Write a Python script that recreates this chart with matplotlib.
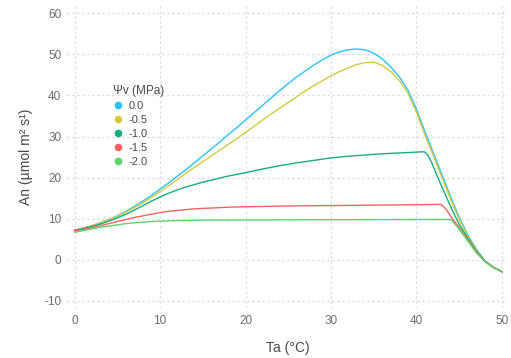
import matplotlib
matplotlib.use("Agg")
import matplotlib.pyplot as plt
from matplotlib.lines import Line2D

plt.rcParams['font.family'] = ['Liberation Sans', 'DejaVu Sans']
plt.rcParams['axes.unicode_minus'] = False

# series (Ta in degC, An in umol m-2 s-1)
ta_00 = list(range(0, 51))
an_00 = [7.2, 7.7, 8.3, 9.0, 9.8, 10.7, 11.8, 13.0, 14.3, 15.7,
         17.2, 18.7, 20.3, 21.9, 23.6, 25.3, 27.0, 28.7, 30.5, 32.2,
         34.0, 35.8, 37.6, 39.4, 41.2, 42.9, 44.5, 46.0, 47.4, 48.7,
         49.8, 50.6, 51.1, 51.3, 51.1, 50.3, 48.9, 46.9, 44.5, 41.3,
         36.6, 31.1, 25.9, 20.6, 15.3, 10.3, 6.1, 2.6, -0.2, -1.8, -2.9]

ta_05 = list(range(0, 51))
an_05 = [7.2, 7.7, 8.3, 9.0, 9.7, 10.6, 11.6, 12.7, 13.9, 15.2,
         16.6, 18.0, 19.5, 21.0, 22.5, 23.9, 25.3, 26.7, 28.1, 29.5,
         31.0, 32.5, 34.0, 35.5, 36.9, 38.3, 39.7, 41.1, 42.4, 43.6,
         44.8, 45.8, 46.7, 47.5, 48.0, 48.1, 47.3, 45.8, 43.6, 40.6,
         35.9, 30.3, 25.2, 19.9, 14.7, 9.8, 5.8, 2.4, -0.3, -1.8, -2.9]

ta_10 = [0, 1, 2, 3, 4, 5, 6, 7, 8, 9, 10, 11, 12, 13, 14, 15, 16, 17, 18, 19, 20,
         22, 24, 26, 28, 30, 32, 34, 36, 38, 40, 40.9, 41.3, 41.7, 42, 43, 44, 45,
         46, 47, 48, 49, 50]
an_10 = [7.2, 7.6, 8.1, 8.7, 9.4, 10.2, 11.1, 12.1, 13.2, 14.3, 15.3, 16.2, 17.0,
         17.7, 18.3, 18.9, 19.4, 19.9, 20.4, 20.8, 21.2, 22.1, 22.9, 23.6, 24.2, 24.8,
         25.2, 25.5, 25.8, 26.0, 26.2, 26.3, 25.6, 24.0, 22.5, 17.6, 12.9, 8.6, 5.3,
         2.1, -0.35, -1.85, -2.9]

ta_15 = [0, 1, 2, 3, 4, 5, 6, 7, 8, 9, 10, 11, 12, 13, 14, 15, 16, 18, 20, 25, 30,
         35, 40, 42.8, 43.2, 43.6, 44, 45, 46, 47, 48, 49, 50]
an_15 = [7.0, 7.4, 7.8, 8.3, 8.8, 9.3, 9.8, 10.3, 10.7, 11.1, 11.5, 11.8, 12.0,
         12.2, 12.4, 12.5, 12.6, 12.8, 12.9, 13.1, 13.2, 13.3, 13.4, 13.5, 12.9,
         11.9, 10.6, 7.8, 4.9, 1.9, -0.4, -1.9, -2.9]

ta_20 = [0, 1, 2, 3, 4, 5, 6, 7, 8, 9, 10, 12, 14, 17, 20, 30, 40, 44, 44.3, 45,
         46, 47, 48, 49, 50]
an_20 = [6.7, 7.1, 7.5, 7.9, 8.2, 8.5, 8.8, 9.0, 9.15, 9.3, 9.4, 9.55, 9.62, 9.68,
         9.7, 9.75, 9.8, 9.8, 9.2, 7.4, 4.6, 1.7, -0.45, -1.9, -2.9]

labels = ['0.0', '-0.5', '-1.0', '-1.5', '-2.0']
colors = ['#27c4f5', '#d5c93e', '#15ae7f', '#f46262', '#5dd46b']
series = [(ta_00, an_00), (ta_05, an_05), (ta_10, an_10), (ta_15, an_15), (ta_20, an_20)]

fig = plt.figure(figsize=(5.11, 3.58), dpi=100)
ax = fig.add_axes([0.131, 0.14, 0.863, 0.846])

for (x, y), c in zip(series, colors):
    ax.plot(x, y, color=c, linewidth=1.0, solid_joinstyle='round')

ax.set_xlim(-0.9, 50.7)
ax.set_ylim(-11.7, 62)
ax.set_xticks([0, 10, 20, 30, 40, 50])
ax.set_yticks([-10, 0, 10, 20, 30, 40, 50, 60])
ax.grid(True, color='#d4d2e4', linestyle=(0, (1.5, 2.5)), linewidth=0.9)
ax.set_axisbelow(True)
for s in ax.spines.values():
    s.set_visible(False)
ax.tick_params(length=0, labelsize=8.5, labelcolor='#6e6a72')
ax.tick_params(axis='y', pad=4)
ax.tick_params(axis='x', pad=5)

ax.set_xlabel('Ta (°C)', fontsize=10, color='#4a464e', labelpad=10)
ax.set_ylabel('An (µmol m² s¹)', fontsize=10, color='#4a464e', labelpad=8)

handles = [Line2D([], [], linestyle='none', marker='o', markersize=4.5,
                  markerfacecolor=c, markeredgecolor=c) for c in colors]
leg = ax.legend(handles, labels, title='Ψv (MPa)', loc='upper left',
                bbox_to_anchor=(0.095, 0.75), frameon=False, fontsize=8,
                title_fontsize=8.5, alignment='left', handlelength=0.8,
                handletextpad=0.6, labelspacing=0.35, borderaxespad=0)
for t in leg.get_texts():
    t.set_color('#4a464e')
leg.get_title().set_color('#4a464e')

fig.savefig('out.png', dpi=100)
